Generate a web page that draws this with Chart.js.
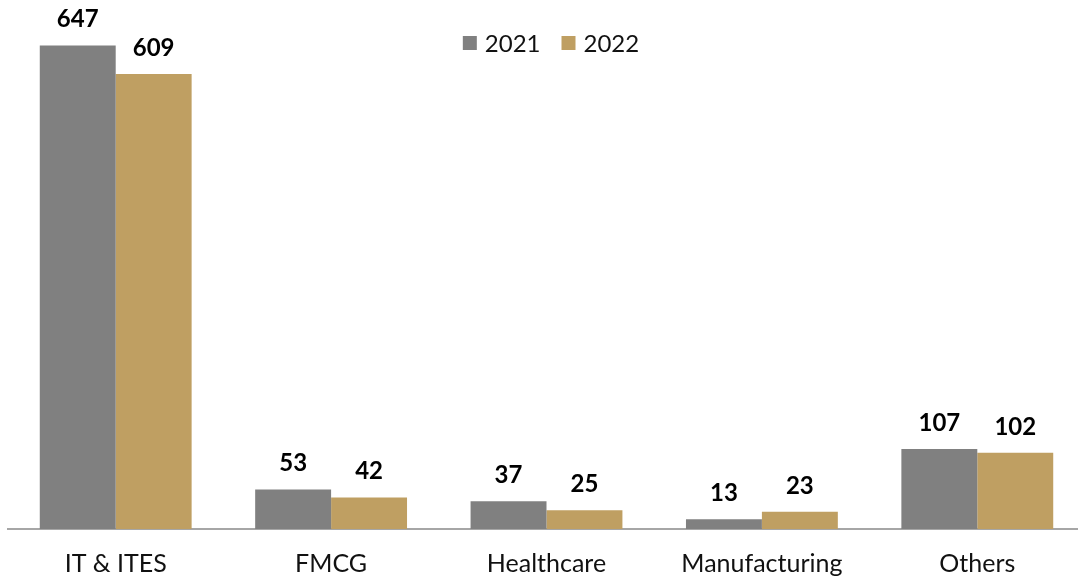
<!DOCTYPE html>
<html>
<head>
<meta charset="utf-8">
<script src="https://cdn.jsdelivr.net/npm/chart.js@4.4.1/dist/chart.umd.min.js"></script>
<style>
  html, body { margin: 0; padding: 0; background: #fff; overflow: hidden; }
  #wrap { position: relative; width: 1086px; height: 599px; }
</style>
</head>
<body>
<div id="wrap"><canvas id="c"></canvas></div>
<script>
const categories = ["IT & ITES", "FMCG", "Healthcare", "Manufacturing", "Others"];
const series2021 = [647, 53, 37, 13, 107];
const series2022 = [609, 42, 25, 23, 102];
const seriesNames = ["2021", "2022"];

const valueLabels = {
  id: 'valueLabels',
  afterDatasetsDraw(chart) {
    const ctx = chart.ctx;
    ctx.save();
    ctx.font = 'bold 24px Lato';
    ctx.fillStyle = '#000';
    ctx.textAlign = 'center';
    ctx.textBaseline = 'middle';
    chart.data.datasets.forEach((ds, i) => {
      const meta = chart.getDatasetMeta(i);
      meta.data.forEach((bar, j) => {
        ctx.fillText(String(ds.data[j]), bar.x, bar.y - 26);
      });
    });
    ctx.restore();
  }
};

const topLegend = {
  id: 'topLegend',
  afterDraw(chart) {
    const ctx = chart.ctx;
    ctx.save();
    ctx.font = '24px Lato';
    ctx.textBaseline = 'middle';
    ctx.textAlign = 'left';
    const box = 14, gap = 8, spacing = 21, cy = 43;
    const items = chart.data.datasets.map(ds => ({
      label: ds.label, color: ds.backgroundColor, w: box + gap + ctx.measureText(ds.label).width
    }));
    const total = items.reduce((s, it) => s + it.w, 0) + spacing * (items.length - 1);
    let x = 551 - total / 2;
    items.forEach(it => {
      ctx.fillStyle = it.color;
      ctx.fillRect(x, cy - box / 2, box, box);
      ctx.fillStyle = '#111';
      ctx.fillText(it.label, x + box + gap, cy + 1);
      x += it.w + spacing;
    });
    ctx.restore();
  }
};

new Chart(document.getElementById('c'), {
  type: 'bar',
  data: {
    labels: categories,
    datasets: [
      { label: seriesNames[0], data: series2021, backgroundColor: '#808080' },
      { label: seriesNames[1], data: series2022, backgroundColor: '#BF9F62' }
    ]
  },
  options: {
    responsive: true,
    maintainAspectRatio: false,
    animation: false,
    layout: { padding: { left: 8, right: 1, top: 12, bottom: 0 } },
    datasets: { bar: { categoryPercentage: 0.705, barPercentage: 1.0 } },
    scales: {
      x: {
        grid: { display: false, drawTicks: false },
        border: { display: true, color: '#a6a6a6', width: 2 },
        ticks: { color: '#111', font: { family: 'Lato', size: 25 }, padding: 20 }
      },
      y: {
        display: false,
        min: 0,
        max: 692
      }
    },
    plugins: {
      legend: { display: false },
      tooltip: { enabled: false }
    }
  },
  plugins: [valueLabels, topLegend]
});
</script>
</body>
</html>
